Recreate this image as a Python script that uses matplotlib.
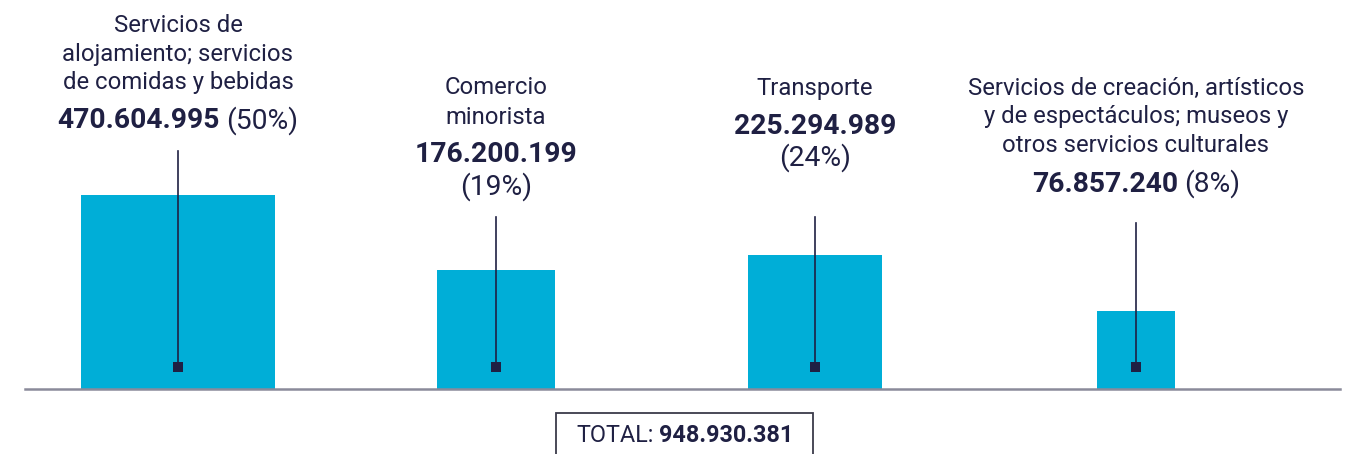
import numpy as np
import matplotlib
matplotlib.use("Agg")
import matplotlib.pyplot as plt
from matplotlib.patches import Rectangle

# ---- data ----
categories = [
    ["Servicios de", "alojamiento; servicios", "de comidas y bebidas"],
    ["Comercio", "minorista"],
    ["Transporte"],
    ["Servicios de creación, artísticos", "y de espectáculos; museos y", "otros servicios culturales"],
]
values = [470604995, 176200199, 225294989, 76857240]
value_labels = ["470.604.995", "176.200.199", "225.294.989", "76.857.240"]
pct_labels = ["(50%)", "(19%)", "(24%)", "(8%)"]
total_label = "948.930.381"

# ---- layout / style ----
W, H = 1351, 454
BASE = 389                       # baseline, pixels from top
centers = [178, 496, 815, 1136]
label_top = [25, 88, 88, 88]     # y (px from top) of first text line
pct_split = [False, True, True, False]
connector_top = [151, 217, 217, 223]
K = 8.95                         # px per sqrt(million)
BAR = "#00AED7"
INK = "#1F2043"
FONT = "Roboto"
FS = 17.2
FSV = 20.3

fig = plt.figure(figsize=(W / 100, H / 100), dpi=100)
ax = fig.add_axes([0, 0, 1, 1])
ax.set_xlim(0, W)
ax.set_ylim(BASE - H, BASE)      # y up, 0 = baseline
ax.axis("off")

def Y(py):
    return BASE - py

sides = [K * np.sqrt(v / 1e6) for v in values]
ax.bar(centers, sides, width=sides, bottom=0, color=BAR, zorder=2)

# baseline
ax.plot([25, 1340], [0, 0], color="#8A8A9A", lw=1.8, zorder=3)

# connectors and square markers
for c, top in zip(centers, connector_top):
    ax.plot([c, c], [Y(top), Y(367)], color=INK, lw=1.2, zorder=4)
ax.scatter(centers, [Y(367)] * len(centers), marker="s", s=46, color=INK, zorder=5, linewidths=0)

fig.canvas.draw()
renderer = fig.canvas.get_renderer()

def mixed(x, y, parts, fs):
    """parts: list of (text, weight); centered at x."""
    texts = []
    for s, w in parts:
        t = ax.text(0, y, s, fontsize=fs, fontweight=w, family=FONT, color=INK,
                    ha="left", va="center", zorder=6)
        texts.append(t)
    widths = [t.get_window_extent(renderer).width for t in texts]
    gap = fs * 0.3
    total = sum(widths) + gap * (len(texts) - 1)
    cur = x - total / 2
    for t, w in zip(texts, widths):
        t.set_x(cur)
        cur += w + gap

for i, c in enumerate(centers):
    y = label_top[i]
    for j, line in enumerate(categories[i]):
        ax.text(c, Y(y + 29 * j), line, fontsize=FS, family=FONT, color=INK,
                ha="center", va="center", zorder=6)
    vy = y + 29 * (len(categories[i]) - 1) + 38
    if pct_split[i]:
        mixed(c, Y(vy), [(value_labels[i], "bold")], FSV)
        mixed(c, Y(vy + 32), [(pct_labels[i], "normal")], FSV)
    else:
        mixed(c, Y(vy), [(value_labels[i], "bold"), (pct_labels[i], "normal")], FSV)

# total box
ax.add_patch(Rectangle((556, Y(470)), 257, 470 - 413, fill=False,
                       edgecolor="#3A3A4A", lw=1.3, zorder=6))
mixed(684.5, Y(435), [("TOTAL:", "normal"), (total_label, "bold")], 16.8)

fig.savefig("out.png", dpi=100, facecolor="white")
